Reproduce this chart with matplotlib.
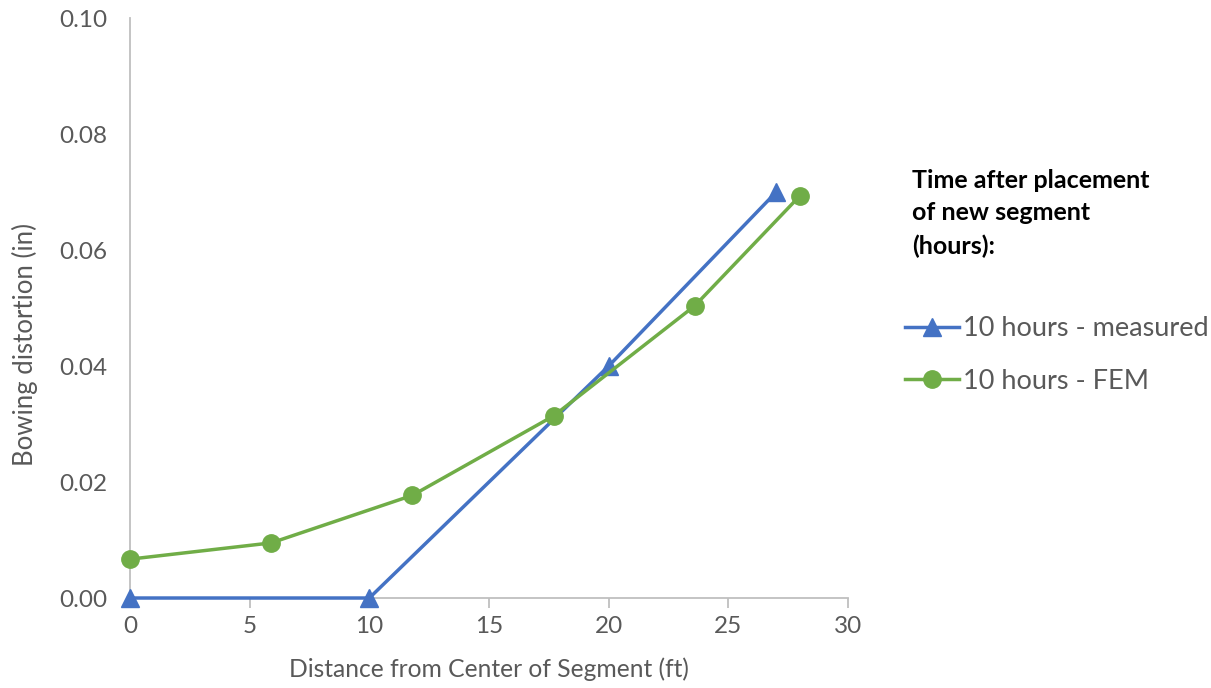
import matplotlib
matplotlib.use("Agg")
import matplotlib.pyplot as plt

# data
meas_x = [0, 10, 20, 27]
meas_y = [0.0, 0.0, 0.040, 0.070]
fem_x = [0, 5.9, 11.8, 17.7, 23.6, 28]
fem_y = [0.0067, 0.0095, 0.0177, 0.0314, 0.0504, 0.0694]

BLUE = "#4472c4"
GREEN = "#70ad47"
GRAY = "#595959"

plt.rcParams['font.family'] = ['Lato', 'DejaVu Sans']

fig = plt.figure(figsize=(12.11, 6.88), dpi=100)
ax = fig.add_axes([0.1073, 0.1308, 0.593, 0.843])

ax.plot(meas_x, meas_y, color=BLUE, lw=2.5, marker="^", ms=12.5, label="10 hours - measured",
        zorder=3, clip_on=False)
ax.plot(fem_x, fem_y, color=GREEN, lw=2.5, marker="o", ms=12.5, label="10 hours - FEM",
        zorder=4, clip_on=False)

ax.set_xlim(0, 30)
ax.set_ylim(0, 0.10)
ax.set_xticks(range(0, 31, 5))
ax.set_yticks([0, 0.02, 0.04, 0.06, 0.08, 0.10])
ax.set_yticklabels(["0.00", "0.02", "0.04", "0.06", "0.08", "0.10"])
ax.tick_params(colors=GRAY, labelsize=17.5)
ax.tick_params(axis="x", direction="out", length=7, width=1.3, color="#bfbfbf", pad=6)
ax.tick_params(axis="y", length=0, pad=16)
for s in ["top", "right"]:
    ax.spines[s].set_visible(False)
for s in ["left", "bottom"]:
    ax.spines[s].set_color("#bfbfbf")
    ax.spines[s].set_linewidth(1.3)

ax.set_xlabel("Distance from Center of Segment (ft)", color=GRAY, fontsize=17.7, labelpad=15)
ax.set_ylabel("Bowing distortion (in)", color=GRAY, fontsize=18.5)
ax.yaxis.set_label_coords(-0.128, 0.437)

fig.text(0.753, 0.69, "Time after placement\nof new segment\n(hours):", fontsize=18,
         fontweight="bold", color="black", va="center", ha="left", linespacing=1.5)

leg = ax.legend(loc="center left", bbox_to_anchor=(1.045, 0.419), frameon=False,
                fontsize=19.5, handlelength=2.0, labelspacing=1.0, handletextpad=0.15)
for t in leg.get_texts():
    t.set_color(GRAY)

fig.savefig("out.png", dpi=100)
